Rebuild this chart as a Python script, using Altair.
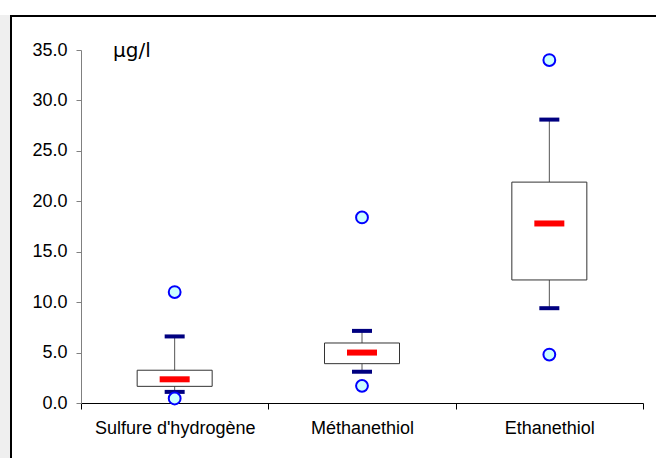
import altair as alt
import pandas as pd

categories = ["Sulfure d'hydrogène", "Méthanethiol", "Ethanethiol"]
whisker_low = [1.1, 3.1, 9.4]
q1 = [1.65, 3.9, 12.2]
median = [2.35, 5.0, 17.8]
q3 = [3.25, 5.95, 21.9]
whisker_high = [6.6, 7.15, 28.1]
outlier_low = [0.45, 1.7, 4.8]
outlier_high = [11.0, 18.4, 34.0]
y_ticks = [0, 5, 10, 15, 20, 25, 30, 35]

df = pd.DataFrame({
    "cat": categories,
    "wlow": whisker_low,
    "q1": q1,
    "med": median,
    "q3": q3,
    "whigh": whisker_high,
})
out = pd.DataFrame({
    "cat": categories * 2,
    "v": outlier_low + outlier_high,
})

W, H = 562, 353

xscale = alt.Scale(domain=categories, paddingInner=0, paddingOuter=0)
yscale = alt.Scale(domain=[0, 35], nice=False, zero=True)

xenc = alt.X("cat:N", scale=xscale, sort=categories, title=None,
             axis=alt.Axis(labelAngle=0, tickBand="extent", domainColor="#000000",
                           tickColor="#000000", tickSize=6, labelFont="Liberation Sans",
                           labelFontSize=18, labelColor="#000000", labelPadding=10,
                           grid=False, domainWidth=1))
yaxis = alt.Axis(values=y_ticks, format=".1f", domainColor="#808080", tickColor="#808080",
                 tickSize=5, labelFont="Liberation Sans", labelFontSize=18,
                 labelColor="#000000", labelPadding=9, grid=False, title=None)

base = alt.Chart(df)

stem = base.mark_rule(color="#555555", strokeWidth=1).encode(
    x=xenc, y=alt.Y("wlow:Q", scale=yscale, axis=yaxis), y2="whigh:Q")

box = base.mark_bar(width=75, fill="#ffffff", stroke="#333333", strokeWidth=1).encode(
    x=xenc, y=alt.Y("q1:Q", scale=yscale), y2="q3:Q")

cap_low = base.mark_tick(size=20, thickness=4, color="#000080", opacity=1, orient="horizontal").encode(
    x=xenc, y=alt.Y("wlow:Q", scale=yscale))
cap_high = base.mark_tick(size=20, thickness=4, color="#000080", opacity=1, orient="horizontal").encode(
    x=xenc, y=alt.Y("whigh:Q", scale=yscale))
med = base.mark_tick(size=30, thickness=6, color="#ff0000", opacity=1, orient="horizontal").encode(
    x=xenc, y=alt.Y("med:Q", scale=yscale))

pts = alt.Chart(out).mark_point(shape="circle", filled=True, fill="#ccffff", fillOpacity=1,
                                stroke="#0000ff", strokeWidth=2, strokeOpacity=1, size=140, opacity=1).encode(
    x=xenc, y=alt.Y("v:Q", scale=yscale))

unit = alt.Chart(pd.DataFrame({"t": ["µg/l"]})).mark_text(
    font="DejaVu Sans", fontSize=20, align="left", baseline="alphabetic", color="#000000"
).encode(text="t:N", x=alt.value(32), y=alt.value(7))

strip = alt.Chart(pd.DataFrame({"a": [0]})).mark_rect(fill="#efefef", opacity=1).encode(
    x=alt.value(-81), x2=alt.value(-71), y=alt.value(-35), y2=alt.value(408))
frame_top = alt.Chart(pd.DataFrame({"a": [0]})).mark_rule(color="#000000", strokeWidth=2).encode(
    x=alt.value(-71), x2=alt.value(575), y=alt.value(-34))
frame_left = alt.Chart(pd.DataFrame({"a": [0]})).mark_rule(color="#000000", strokeWidth=2).encode(
    x=alt.value(-70), y=alt.value(-35), y2=alt.value(408))

chart = alt.layer(strip, frame_top, frame_left, stem, box, cap_low, cap_high, med, pts, unit).properties(
    width=W, height=H,
    autosize=alt.AutoSizeParams(type="none"),
    padding={"left": 81, "top": 50, "right": 13, "bottom": 55},
    background="#ffffff",
).configure_view(stroke=None)

chart.save("out.html", embed_options={"renderer": "svg", "actions": False})
